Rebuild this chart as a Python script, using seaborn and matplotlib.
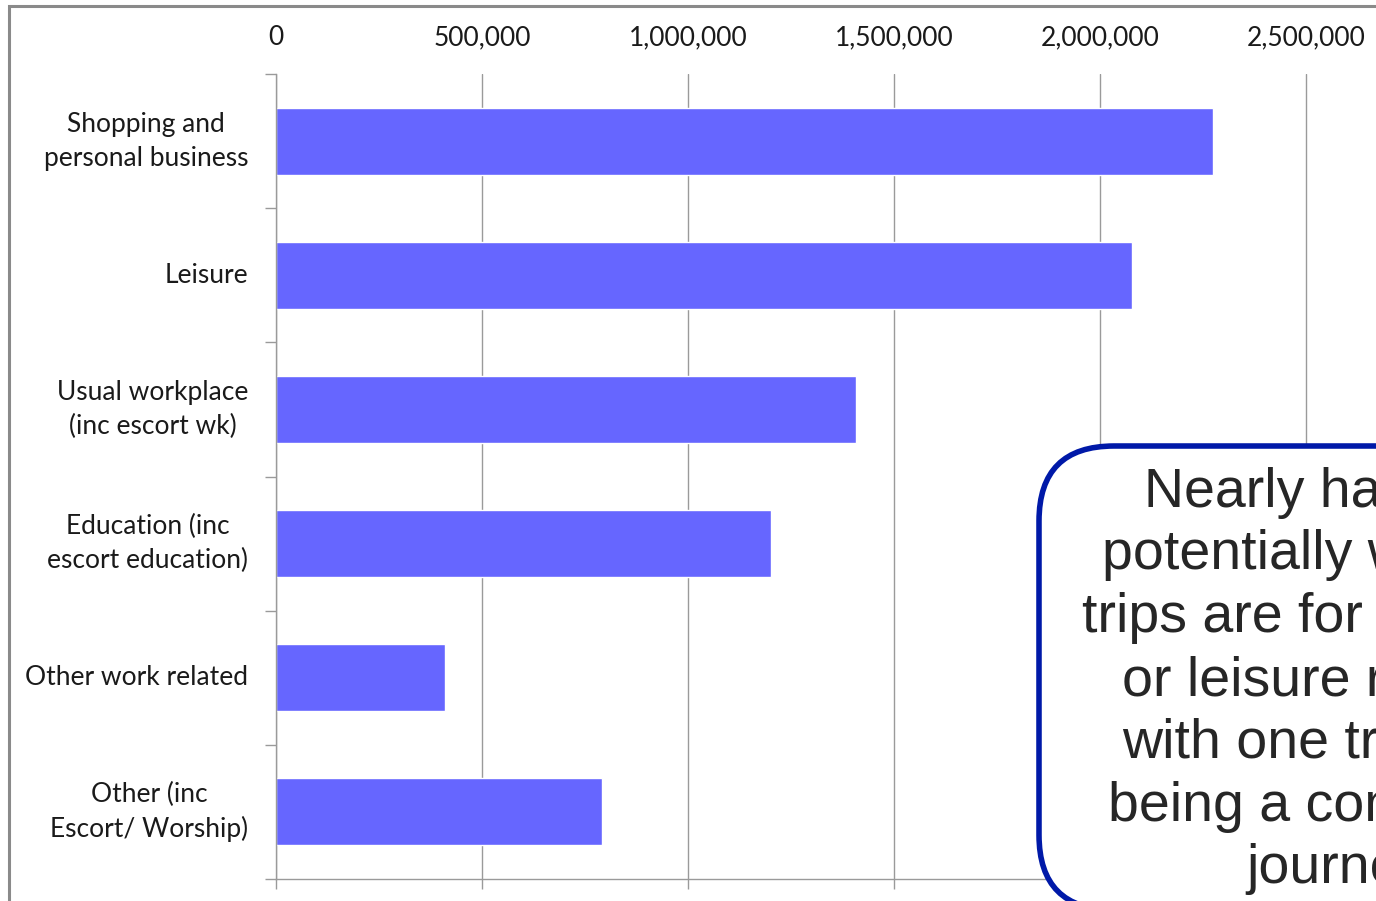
import matplotlib
matplotlib.use("Agg")
import matplotlib.pyplot as plt
import numpy as np
import pandas as pd
import seaborn as sns
from matplotlib.patches import FancyBboxPatch, Rectangle
from matplotlib.ticker import FixedLocator, FuncFormatter

# trip purposes, top to bottom
purposes = [
    "Shopping and\npersonal business",
    "Leisure",
    "Usual workplace\n(inc escort wk)",
    "Education (inc\nescort education)",
    "Other work related",
    "Other (inc\nEscort/ Worship)",
]
trips = [2274000, 2078000, 1408000, 1201000, 410000, 791000]
x_ticks = [0, 500000, 1000000, 1500000, 2000000, 2500000]

callout = ("Nearly half of all\npotentially walkable\ntrips are for shopping\n"
           "or leisure reasons\nwith one trip in six\nbeing a commuting\njourney.")

df = pd.DataFrame({"purpose": purposes, "trips": trips})

sns.set_theme(style="white")
plt.rcParams["font.family"] = ["Lato", "DejaVu Sans"]

W, H = 1376, 901
fig = plt.figure(figsize=(W / 100, H / 100), dpi=100)
fig.patch.set_facecolor("white")

# axes box in pixels: x from 276 to 1512 (0..3M), y from 74 to 879
ax = fig.add_axes([276 / W, (H - 879) / H, 1236 / W, 805 / H])
sns.barplot(data=df, x="trips", y="purpose", orient="h", color="#6666FF",
            saturation=1, width=0.5, ax=ax)

ax.set_xlim(0, 3000000)
ax.set_ylim(len(purposes) - 0.5, -0.5)
ax.set_xlabel("")
ax.set_ylabel("")

ax.xaxis.set_major_locator(FixedLocator(x_ticks))
ax.xaxis.set_major_formatter(FuncFormatter(lambda v, p: f"{int(v):,}"))
ax.grid(axis="x", color="#9a9a9a", linewidth=1)
ax.set_axisbelow(True)
ax.tick_params(axis="x", top=False, bottom=True, labeltop=True,
               labelbottom=False, direction="out", length=7, width=1,
               color="#9a9a9a", pad=10, labelsize=19, labelcolor="#1a1a1a")

ax.yaxis.set_minor_locator(FixedLocator(np.arange(-0.5, len(purposes), 1)))
ax.tick_params(axis="y", which="major", left=False, pad=14,
               labelsize=19, labelcolor="#1a1a1a")
ax.tick_params(axis="y", which="minor", left=True, direction="out",
               length=8, width=1, color="#9a9a9a")
for lab in ax.get_yticklabels():
    lab.set_multialignment("center")
    lab.set_linespacing(1.45)
    lab.set_verticalalignment("center")

for side in ["top", "right"]:
    ax.spines[side].set_visible(False)
for side in ["left", "bottom"]:
    ax.spines[side].set_color("#9a9a9a")
    ax.spines[side].set_linewidth(1)

# outer frame of the chart area (cut by the image edge)
fig.patches.append(Rectangle((9, -200), 2000, H - 6 + 200,
                             transform=None, fill=False,
                             edgecolor="#8a8a8a", linewidth=2.2))

# callout box, also running past the image edge
box = FancyBboxPatch((1039, -9), 600, H - 446 + 9,
                     boxstyle="round,pad=0,rounding_size=75",
                     transform=None, facecolor="white",
                     edgecolor="#0019A8", linewidth=4, zorder=5)
fig.patches.append(box)
fig.text(1343 / W, (H - 681) / H, callout, ha="center", va="center",
         multialignment="center", fontsize=40, color="#262626",
         linespacing=1.27, family=["Liberation Sans", "DejaVu Sans"],
         zorder=6)

fig.savefig("out.png", dpi=100)
